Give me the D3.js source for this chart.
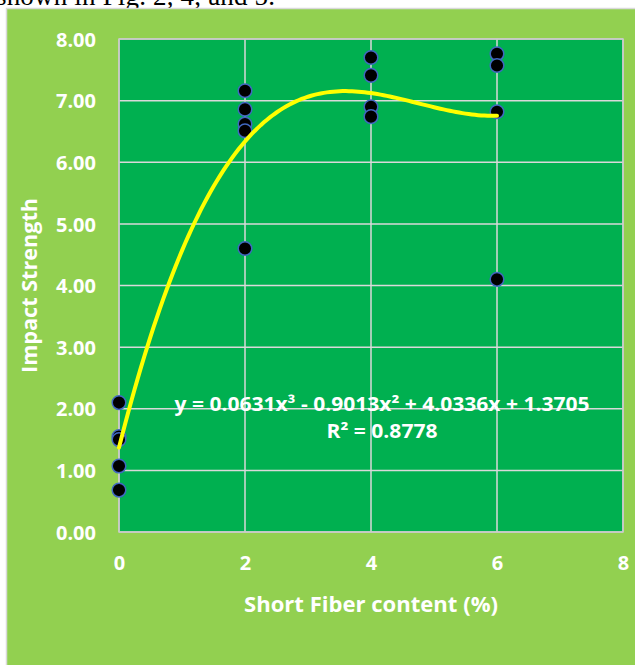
<!DOCTYPE html>
<html lang="en">

<head>
    <meta charset="UTF-8" />
    <title>Impact Strength vs Short Fiber content</title>
    <script src="https://d3js.org/d3.v7.min.js"></script>
    <style>
        html,
        body {
            margin: 0;
            padding: 0;
            background: #ffffff;
            overflow: hidden;
        }
        
        svg {
            display: block;
        }
    </style>
</head>

<body>
    <div id="chart"></div>

    <script>
        // data
        const fiberContent = [0, 0, 0, 0, 0, 2, 2, 2, 2, 2, 4, 4, 4, 4, 6, 6, 6, 6];
        const impactStrength = [2.10, 1.55, 1.50, 1.07, 0.68, 7.16, 6.86, 6.62, 6.51, 4.60, 7.70, 7.41, 6.90, 6.74, 7.76, 7.57, 6.82, 4.10];
        const trendCoef = [1.3705, 4.0336, -0.9013, 0.0631]; // c0 + c1 x + c2 x^2 + c3 x^3
        const xTicks = [0, 2, 4, 6, 8];
        const yTicks = [0, 1, 2, 3, 4, 5, 6, 7, 8];

        const width = 635;
        const height = 665;
        const plot = {
            left: 119,
            right: 623,
            top: 39,
            bottom: 532
        };
        const fontFamily = "'Open Sans', 'Noto Sans', sans-serif";

        const svg = d3.select("#chart")
            .append("svg")
            .attr("width", width)
            .attr("height", height);

        // text above the chart (cut off in the original crop)
        svg.append("text")
            .attr("x", -4)
            .attr("y", 5)
            .attr("font-family", "'Liberation Serif', 'Times New Roman', serif")
            .attr("font-size", 27)
            .attr("fill", "#000")
            .attr("textLength", 279)
            .text("shown in Fig. 2, 4, and 5.");

        // chart area
        svg.append("rect")
            .attr("x", 6.5)
            .attr("y", 8.5)
            .attr("width", width)
            .attr("height", height)
            .attr("fill", "#92d050")
            .attr("stroke", "#d9d9d9")
            .attr("stroke-width", 1.5);

        const x = d3.scaleLinear().domain([0, 8]).range([plot.left, plot.right]);
        const y = d3.scaleLinear().domain([0, 8]).range([plot.bottom, plot.top]);

        // plot area
        svg.append("rect")
            .attr("x", plot.left)
            .attr("y", plot.top)
            .attr("width", plot.right - plot.left)
            .attr("height", plot.bottom - plot.top)
            .attr("fill", "#00b050");

        // gridlines
        svg.append("g")
            .selectAll("line.h")
            .data(yTicks)
            .join("line")
            .attr("x1", plot.left)
            .attr("x2", plot.right)
            .attr("y1", d => y(d))
            .attr("y2", d => y(d))
            .attr("stroke", "#d9d9d9")
            .attr("stroke-width", 1.5);

        svg.append("g")
            .selectAll("line.v")
            .data(xTicks)
            .join("line")
            .attr("x1", d => x(d))
            .attr("x2", d => x(d))
            .attr("y1", plot.top)
            .attr("y2", plot.bottom)
            .attr("stroke", "#d9d9d9")
            .attr("stroke-width", 1.5);

        svg.append("rect")
            .attr("x", plot.left)
            .attr("y", plot.top)
            .attr("width", plot.right - plot.left)
            .attr("height", plot.bottom - plot.top)
            .attr("fill", "none")
            .attr("stroke", "#c8c8c8")
            .attr("stroke-width", 1.5);

        // axes (labels only, no domain / tick marks)
        const yAxis = d3.axisLeft(y)
            .tickValues(yTicks)
            .tickSize(0)
            .tickPadding(23)
            .tickFormat(d3.format(".2f"));

        const xAxis = d3.axisBottom(x)
            .tickValues(xTicks)
            .tickSize(0)
            .tickPadding(24)
            .tickFormat(d3.format("d"));

        const yAxisG = svg.append("g")
            .attr("transform", `translate(${plot.left},0)`)
            .call(yAxis);

        const xAxisG = svg.append("g")
            .attr("transform", `translate(0,${plot.bottom})`)
            .call(xAxis);

        [yAxisG, xAxisG].forEach(g => {
            g.select(".domain").remove();
            g.selectAll("text")
                .attr("font-family", fontFamily)
                .attr("font-weight", "bold")
                .attr("font-size", 20)
                .attr("fill", "#ffffff");
        });
        yAxisG.selectAll("text").attr("dy", "0.36em");
        xAxisG.selectAll("text").attr("dy", "0.72em");

        // axis titles
        svg.append("text")
            .attr("x", 371)
            .attr("y", 612)
            .attr("text-anchor", "middle")
            .attr("font-family", fontFamily)
            .attr("font-weight", "bold")
            .attr("font-size", 22)
            .attr("fill", "#ffffff")
            .attr("textLength", 254)
            .attr("lengthAdjust", "spacingAndGlyphs")
            .text("Short Fiber content (%)");

        svg.append("text")
            .attr("transform", `translate(37,${(plot.top + plot.bottom) / 2}) rotate(-90)`)
            .attr("text-anchor", "middle")
            .attr("font-family", fontFamily)
            .attr("font-weight", "bold")
            .attr("font-size", 22)
            .attr("fill", "#ffffff")
            .attr("textLength", 175)
            .attr("lengthAdjust", "spacingAndGlyphs")
            .text("Impact Strength");

        // points
        const points = fiberContent.map((d, i) => ({
            x: d,
            y: impactStrength[i]
        }));

        svg.append("g")
            .selectAll("circle")
            .data(points)
            .join("circle")
            .attr("cx", d => x(d.x))
            .attr("cy", d => y(d.y))
            .attr("r", 6.8)
            .attr("fill", "#000000")
            .attr("stroke", "#4068c0")
            .attr("stroke-width", 1.5);

        // polynomial trendline
        const poly = v => trendCoef.reduce((s, c, k) => s + c * Math.pow(v, k), 0);
        const [xMin, xMax] = d3.extent(fiberContent);
        const curve = d3.range(xMin, xMax + 0.001, 0.05).map(v => [v, poly(v)]);

        svg.append("path")
            .datum(curve)
            .attr("fill", "none")
            .attr("stroke", "#ffff00")
            .attr("stroke-width", 4)
            .attr("stroke-linecap", "round")
            .attr("d", d3.line().x(d => x(d[0])).y(d => y(d[1])));

        // equation label
        svg.append("text")
            .attr("x", 382)
            .attr("y", 411)
            .attr("text-anchor", "middle")
            .attr("font-family", fontFamily)
            .attr("font-weight", "bold")
            .attr("font-size", 19)
            .attr("fill", "#ffffff")
            .attr("textLength", 415)
            .attr("lengthAdjust", "spacingAndGlyphs")
            .text("y = 0.0631x³ - 0.9013x² + 4.0336x + 1.3705");

        svg.append("text")
            .attr("x", 382)
            .attr("y", 438)
            .attr("text-anchor", "middle")
            .attr("font-family", fontFamily)
            .attr("font-weight", "bold")
            .attr("font-size", 19)
            .attr("fill", "#ffffff")
            .attr("textLength", 111)
            .attr("lengthAdjust", "spacingAndGlyphs")
            .text("R² = 0.8778");
    </script>
</body>

</html>
